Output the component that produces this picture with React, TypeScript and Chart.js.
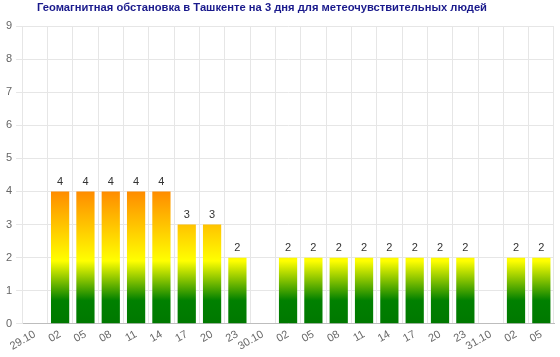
import React, { useEffect, useRef } from "react";
import { Chart, registerables } from "chart.js";

Chart.register(...registerables);

const TITLE = "Геомагнитная обстановка в Ташкенте на 3 дня для метеочувствительных людей";
const CATEGORIES = ["29.10", "02", "05", "08", "11", "14", "17", "20", "23", "30.10", "02", "05", "08", "11", "14", "17", "20", "23", "31.10", "02", "05"];
const KP_VALUES = [0, 4, 4, 4, 4, 4, 3, 3, 2, 0, 2, 2, 2, 2, 2, 2, 2, 2, 0, 2, 2];
const Y_MIN = 0;
const Y_MAX = 9;
// gradient stops in value units
const GRADIENT_STOPS: [number, string][] = [
  [0, "#007800"],
  [0.7, "#008000"],
  [1.9, "#ffff00"],
  [4, "#ff8c00"],
];

const FONT = "'Liberation Sans', Arial, sans-serif";

const labelPlugin = {
  id: "valueLabels",
  afterDatasetsDraw(chart: any) {
    const ctx = chart.ctx;
    const meta = chart.getDatasetMeta(0);
    ctx.save();
    ctx.font = `11px ${FONT}`;
    ctx.fillStyle = "#333";
    ctx.textAlign = "center";
    ctx.textBaseline = "bottom";
    meta.data.forEach((el: any, i: number) => {
      const v = KP_VALUES[i];
      if (!v) return;
      ctx.fillText(String(v), el.x, el.y - 4);
    });
    ctx.restore();
  },
};

const titlePlugin = {
  id: "leftTitle",
  afterDraw(chart: any) {
    const ctx = chart.ctx;
    ctx.save();
    ctx.font = `bold 11.2px ${FONT}`;
    ctx.fillStyle = "#1a1a8c";
    ctx.textAlign = "center";
    ctx.textBaseline = "middle";
    ctx.fillText(TITLE, 262, 8);
    ctx.restore();
  },
};

function barGradient(context: any) {
  const chart = context.chart;
  const { ctx, chartArea, scales } = chart;
  if (!chartArea || !scales.y) return "#008000";
  const y0 = scales.y.getPixelForValue(0);
  const y4 = scales.y.getPixelForValue(4);
  const g = ctx.createLinearGradient(0, y0, 0, y4);
  GRADIENT_STOPS.forEach(([v, c]) => g.addColorStop(Math.min(1, v / 4), c));
  return g;
}

export default function App() {
  const ref = useRef<HTMLCanvasElement>(null);
  useEffect(() => {
    document.body.style.margin = "0";
    const chart = new Chart(ref.current!, {
      type: "bar",
      data: {
        labels: CATEGORIES,
        datasets: [
          {
            data: KP_VALUES,
            backgroundColor: barGradient,
            borderWidth: 0,
            categoryPercentage: 0.72,
            barPercentage: 1,
          },
        ],
      },
      plugins: [labelPlugin, titlePlugin],
      options: {
        animation: false,
        responsive: false,
        maintainAspectRatio: false,
        layout: { padding: { left: 2, right: 6, top: 26, bottom: 0 } },
        plugins: {
          legend: { display: false },
          tooltip: { enabled: false },
          title: { display: false },
        },
        scales: {
          x: {
            offset: true,
            grid: { color: "#e6e6e6", offset: true, drawTicks: false },
            border: { color: "#bdbdbd" },
            ticks: {
              color: "#666",
              font: { family: FONT, size: 11 },
              minRotation: 30,
              maxRotation: 30,
              autoSkip: false,
              padding: 4,
            },
          },
          y: {
            min: Y_MIN,
            max: Y_MAX,
            grid: { color: "#e6e6e6", drawTicks: true, tickLength: 6 },
            border: { color: "#e6e6e6" },
            ticks: {
              stepSize: 1,
              color: "#666",
              font: { family: FONT, size: 11 },
              padding: 4,
            },
          },
        },
      },
    });
    return () => chart.destroy();
  }, []);
  return (
    <div style={{ width: 560, height: 357 }}>
      <canvas ref={ref} width={560} height={357} style={{ display: "block" }} />
    </div>
  );
}
